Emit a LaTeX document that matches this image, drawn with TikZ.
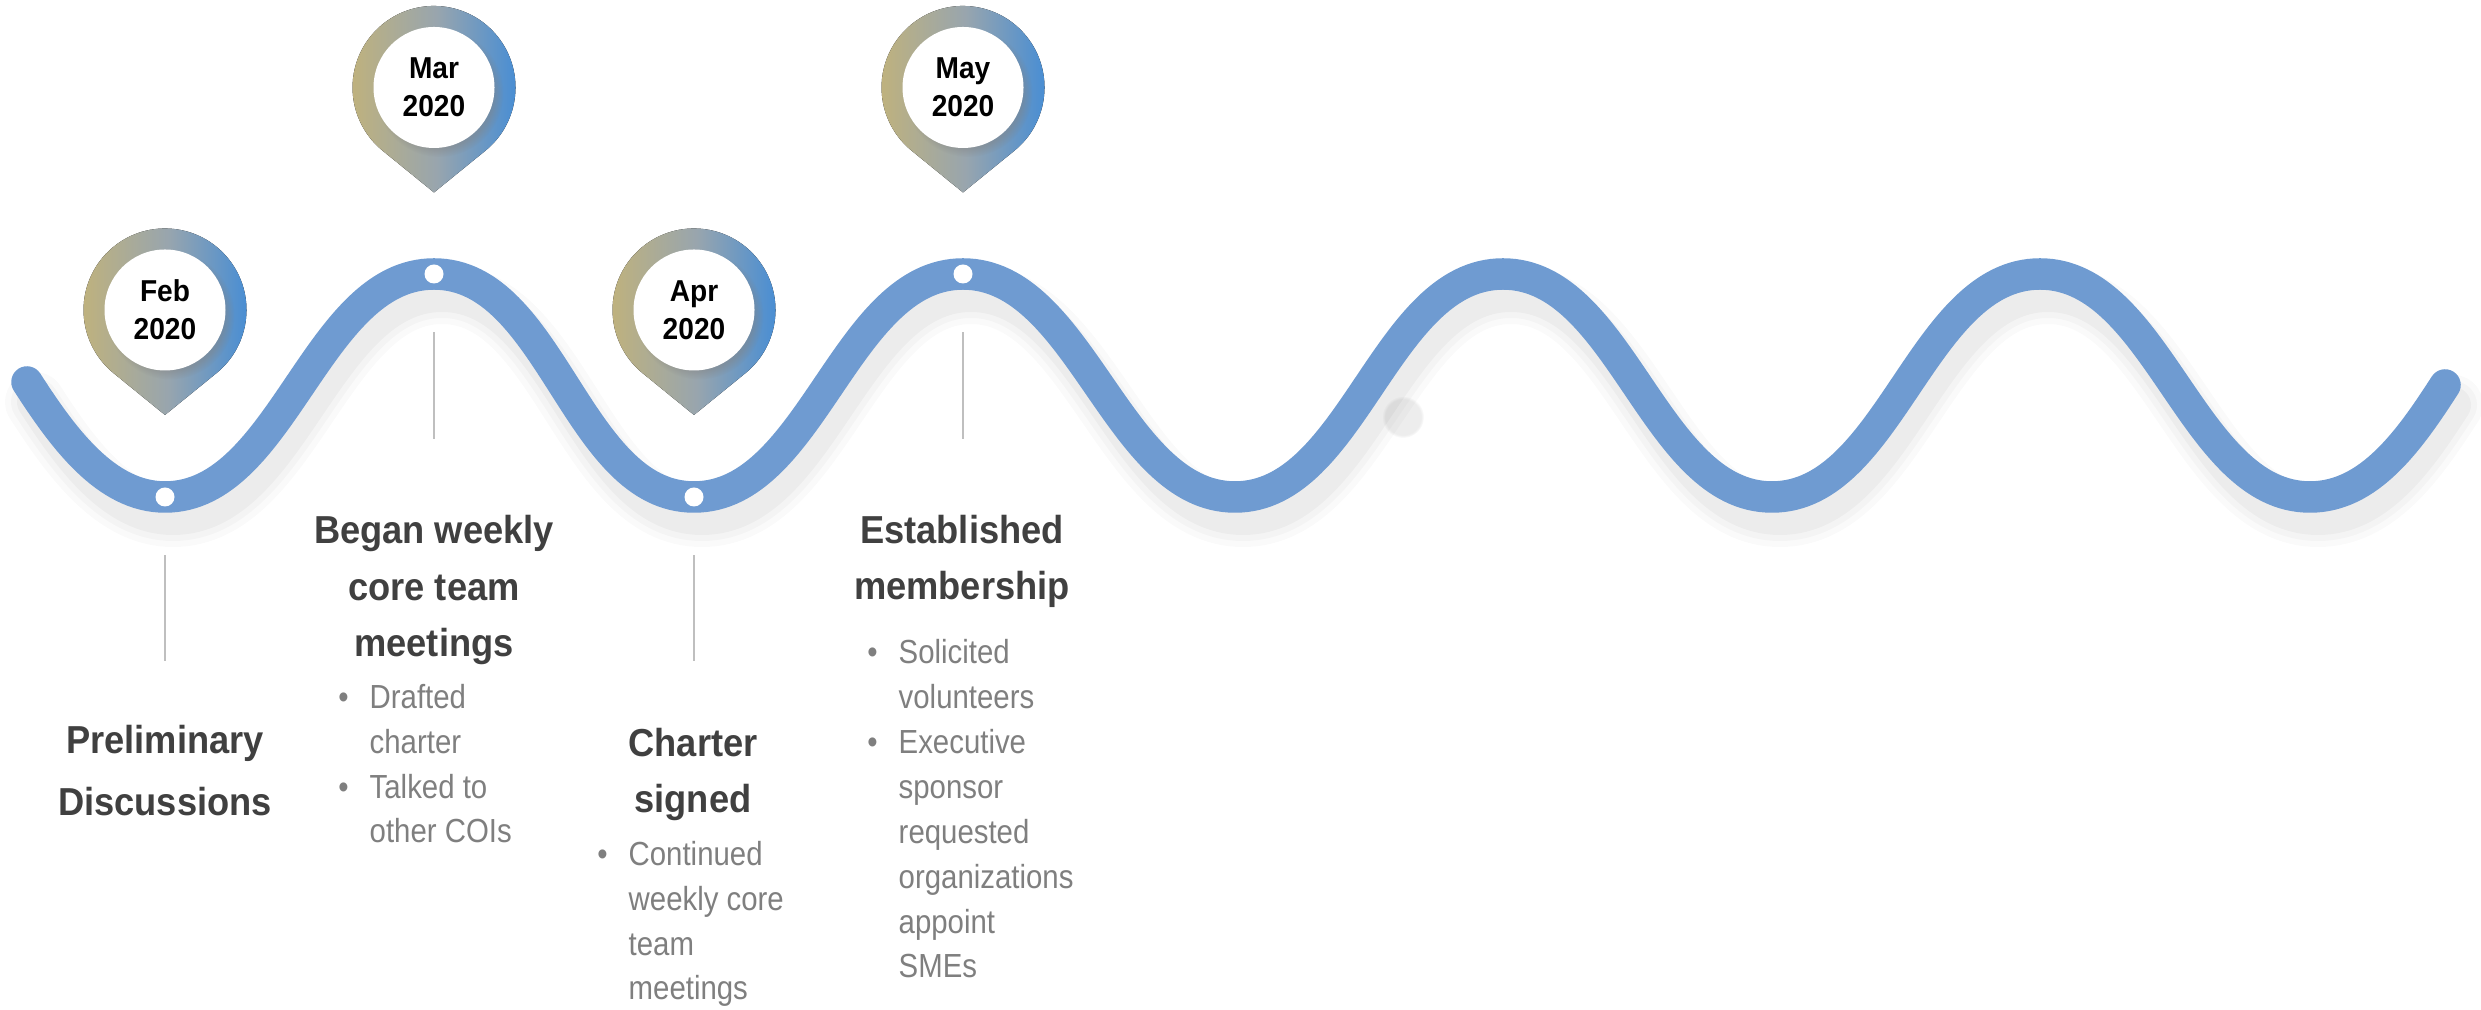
\documentclass[tikz,border=0pt]{standalone}
\usepackage{fontspec}
\setmainfont{Liberation Sans}
\newfontfamily\headfont[FakeStretch=0.93]{Liberation Sans}
\newfontfamily\listfont[FakeStretch=0.88]{Liberation Sans}
\usetikzlibrary{shadows}

\definecolor{timelineblue}{HTML}{6F9BD1}
\definecolor{pinleft}{HTML}{C0B27C}
\definecolor{pinmid}{HTML}{98A5AE}
\definecolor{pinright}{HTML}{3F8BD8}
\definecolor{headtext}{HTML}{404040}
\definecolor{listtext}{HTML}{7F7F7F}
\definecolor{stemgray}{HTML}{BFBFBF}

\newcommand{\itemdot}{\makebox[0pt][r]{\textbullet\hspace{6pt}}}
\newcommand{\wavecurve}{(s) .. controls +(36,-56) and +(-59,0) .. (t1)
    .. controls +(118,0) and +(-118,0) .. (c1)
    .. controls +(118,0) and +(-118,0) .. (t2)
    .. controls +(118,0) and +(-118,0) .. (c2)
    .. controls +(118,0) and +(-118,0) .. (t3)
    .. controls +(118,0) and +(-118,0) .. (c3)
    .. controls +(118,0) and +(-118,0) .. (t4)
    .. controls +(118,0) and +(-118,0) .. (c4)
    .. controls +(118,0) and +(-118,0) .. (t5)
    .. controls +(59,0) and +(-36,-56) .. (e)}

\begin{document}
\begin{tikzpicture}[
    x=0.1mm, y=0.1mm,
    timeline/.style={draw=timelineblue, line width=3.15mm, line cap=round},
    waveshadow/.style={draw=black, line width=#1, line cap=round},
    eventdot/.style={circle, fill=white, inner sep=0pt, minimum size=1.9mm},
    stemline/.style={draw=stemgray, line width=0.25mm, shorten <=4.8mm},
    pinbody/.style={left color=pinleft, right color=pinright, middle color=pinmid},
    datebox/.style={circle, fill=white, inner sep=0pt, minimum size=12.1mm, align=center,
        circular drop shadow={shadow xshift=0.5mm, shadow yshift=-0.5mm, opacity=0.45, shadow scale=1.06},
        font=\headfont\bfseries\fontsize{8.6}{10.9}\selectfont},
    headline/.style={align=center, anchor=base, inner sep=0pt, text=headtext,
        font=\headfont\bfseries\fontsize{11.1}{16.2}\selectfont},
    itemlist/.style={align=left, anchor=base west, inner sep=0pt, text=listtext,
        font=\listfont\fontsize{9.5}{12.8}\selectfont}
]

\useasboundingbox (0,0) rectangle (2481,1010);

\foreach \n/\x/\y in {s/27/628, t1/165/513, c1/434/736, t2/694/513, c2/963/736,
    t3/1235/513, c3/1503/736, t4/1772/513, c4/2040/736, t5/2310/513, e/2445/625}
    \coordinate (\n) at (\x,\y);

\foreach \w/\o in {6mm/0.02, 4.8mm/0.025, 3.6mm/0.03}
    \draw[waveshadow=\w, opacity=\o, transform canvas={xshift=0.8mm, yshift=-2mm}] \wavecurve;
\fill[black, opacity=0.07, path fading=circle with fuzzy edge 15 percent] (1403,593) circle (21);

\draw[timeline] \wavecurve;

\node[eventdot] (febdot) at (t1) {};
\node[eventdot] (mardot) at (c1) {};
\node[eventdot] (aprdot) at (t2) {};
\node[eventdot] (maydot) at (c2) {};

\coordinate (febend) at (165,349);
\coordinate (marend) at (434,571);
\coordinate (aprend) at (694,349);
\coordinate (mayend) at (963,571);
\draw[stemline] (febdot) -- (febend);
\draw[stemline] (mardot) -- (marend);
\draw[stemline] (aprdot) -- (aprend);
\draw[stemline] (maydot) -- (mayend);

\foreach \m/\px/\py in {Feb/165/700, Mar/434/922.5, Apr/694/700, May/963/922.5} {
    \fill[pinbody] (\px,\py-105) -- (\px+51.3,\py-63.3)
        arc[start angle=-51, end angle=231, radius=81.5] -- cycle;
    \node[datebox] (date\m) at (\px,\py) {\m\\2020};
}

\node[headline] (febhead) at (165,194) {Preliminary\\[1.7pt]Discussions};
\node[headline] (marhead) at (434,353) {Began weekly\\core team\\meetings};
\node[headline] (aprhead) at (693,197) {Charter\\signed};
\node[headline] (mayhead) at (962,410) {Established\\membership};

\node[itemlist] (marlist) at (369,167) {\itemdot Drafted\\charter\\\itemdot Talked to\\other COIs};
\node[itemlist] (aprlist) at (628,10) {\itemdot Continued\\weekly core\\team\\meetings};
\node[itemlist] (maylist) at (898,32) {\itemdot Solicited\\volunteers\\\itemdot Executive\\sponsor\\requested\\organizations\\appoint\\SMEs};

\end{tikzpicture}
\end{document}
